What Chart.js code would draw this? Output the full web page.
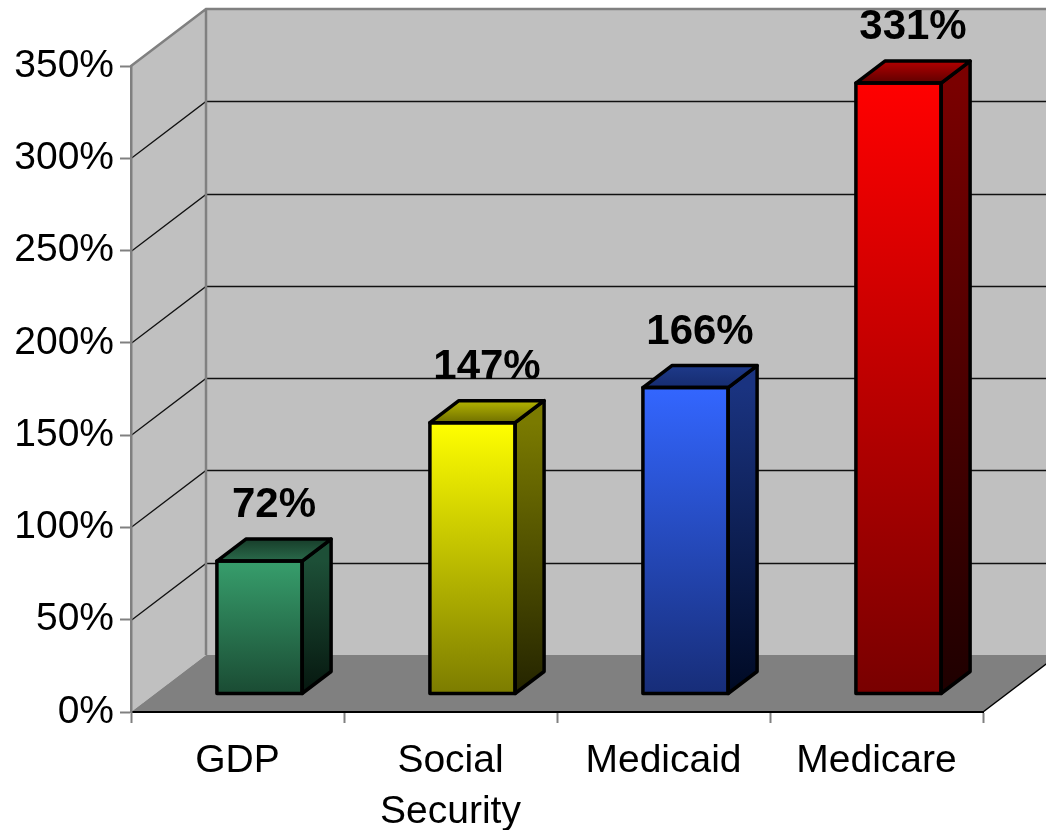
<!DOCTYPE html>
<html>
<head>
<meta charset="utf-8">
<script src="https://cdn.jsdelivr.net/npm/chart.js@4.4.1/dist/chart.umd.min.js"></script>
<style>
  body { margin: 0; background: #fff; }
  #wrap { width: 1046px; height: 830px; position: relative; }
</style>
</head>
<body>
<div id="wrap"><canvas id="growthChart"></canvas></div>
<script>
// chart data
const categories = ['GDP', 'Social Security', 'Medicaid', 'Medicare'];
const growth = [72, 147, 166, 331];
const yTicks = [0, 50, 100, 150, 200, 250, 300, 350];

// colours per bar: front top, front bottom, side top, side bottom, top back, top front
const barColors = [
    ['#379e6c', '#1a4b33', '#1d4f37', '#06170f', '#173d2a', '#2a6a4a'],
    ['#ffff00', '#7c7c00', '#7a7a00', '#242400', '#b5b500', '#6f6f00'],
    ['#3366ff', '#172d78', '#1a3380', '#000a24', '#1e3a8a', '#162c70'],
    ['#ff0000', '#780000', '#7a0000', '#1e0000', '#b30000', '#5e0000']
];

const FONT = "'Liberation Sans', Arial, sans-serif";
const WALL = { dx: 75, dy: -57 };   // depth of the walls
const BAR_OFF = { dx: 22, dy: -18 }; // where the bars stand on the floor
const BAR_DEPTH = { dx: 29, dy: -22 };

// draws the grey walls, floor and the gridlines on the back wall
const wallsPlugin = {
    id: 'walls',
    beforeDraw(chart) {
        const ctx = chart.ctx;
        const a = chart.chartArea;
        const y = chart.scales.y;
        const far = a.right + WALL.dx;
        ctx.save();
        // left wall
        ctx.fillStyle = '#c0c0c0';
        ctx.beginPath();
        ctx.moveTo(a.left, a.top);
        ctx.lineTo(a.left + WALL.dx, a.top + WALL.dy);
        ctx.lineTo(a.left + WALL.dx, a.bottom + WALL.dy);
        ctx.lineTo(a.left, a.bottom);
        ctx.closePath();
        ctx.fill();
        // back wall
        ctx.fillRect(a.left + WALL.dx, a.top + WALL.dy, far - a.left - WALL.dx, a.bottom - a.top);
        // floor
        ctx.fillStyle = '#808080';
        ctx.beginPath();
        ctx.moveTo(a.left, a.bottom);
        ctx.lineTo(a.left + WALL.dx, a.bottom + WALL.dy);
        ctx.lineTo(far, a.bottom + WALL.dy);
        ctx.lineTo(a.right, a.bottom);
        ctx.closePath();
        ctx.fill();
        ctx.strokeStyle = '#000';
        ctx.lineWidth = 1.5;
        ctx.beginPath();
        ctx.moveTo(a.right, a.bottom);
        ctx.lineTo(far, a.bottom + WALL.dy);
        ctx.stroke();

        // gridlines
        yTicks.forEach(v => {
            if (v === 0 || v === yTicks[yTicks.length - 1]) return;
            const py = Math.round(y.getPixelForValue(v)) + 0.5;
            ctx.strokeStyle = '#111';
            ctx.lineWidth = 1.3;
            ctx.beginPath();
            ctx.moveTo(a.left, py);
            ctx.lineTo(a.left + WALL.dx, py + WALL.dy);
            ctx.lineTo(far, py + WALL.dy);
            ctx.stroke();
        });

        // wall edges
        ctx.strokeStyle = '#808080';
        ctx.lineWidth = 2.5;
        ctx.beginPath();
        ctx.moveTo(a.left, a.top);
        ctx.lineTo(a.left + WALL.dx, a.top + WALL.dy);
        ctx.lineTo(far, a.top + WALL.dy);
        ctx.moveTo(a.left + WALL.dx, a.top + WALL.dy);
        ctx.lineTo(a.left + WALL.dx, a.bottom + WALL.dy);
        ctx.stroke();
        ctx.restore();
    },
    beforeDatasetsDraw(chart) {
        chart.ctx.save();
        chart.ctx.translate(BAR_OFF.dx, BAR_OFF.dy);
    },
    afterDatasetsDraw(chart) {
        const ctx = chart.ctx;
        const bars = chart.getDatasetMeta(0).data;
        bars.forEach((bar, i) => {
            const p = bar.getProps(['x', 'y', 'base', 'width']);
            const left = p.x - p.width / 2;
            const right = p.x + p.width / 2;
            const c = barColors[i];

            // side face
            let g = ctx.createLinearGradient(0, p.y, 0, p.base);
            g.addColorStop(0, c[2]);
            g.addColorStop(1, c[3]);
            ctx.fillStyle = g;
            ctx.beginPath();
            ctx.moveTo(right, p.y);
            ctx.lineTo(right + BAR_DEPTH.dx, p.y + BAR_DEPTH.dy);
            ctx.lineTo(right + BAR_DEPTH.dx, p.base + BAR_DEPTH.dy);
            ctx.lineTo(right, p.base);
            ctx.closePath();
            ctx.fill();
            ctx.lineWidth = 3.5;
            ctx.lineJoin = 'round';
            ctx.strokeStyle = '#000';
            ctx.stroke();

            // top face
            g = ctx.createLinearGradient(0, p.y + BAR_DEPTH.dy, 0, p.y);
            g.addColorStop(0, c[4]);
            g.addColorStop(1, c[5]);
            ctx.fillStyle = g;
            ctx.beginPath();
            ctx.moveTo(left, p.y);
            ctx.lineTo(left + BAR_DEPTH.dx, p.y + BAR_DEPTH.dy);
            ctx.lineTo(right + BAR_DEPTH.dx, p.y + BAR_DEPTH.dy);
            ctx.lineTo(right, p.y);
            ctx.closePath();
            ctx.fill();
            ctx.stroke();

            // front outline again so it sits on top of the faces
            ctx.strokeRect(left, p.y, p.width, p.base - p.y);

            // value label
            ctx.fillStyle = '#000';
            ctx.font = 'bold 42px ' + FONT;
            ctx.textAlign = 'center';
            ctx.textBaseline = 'alphabetic';
            ctx.fillText(growth[i] + '%', p.x + BAR_DEPTH.dx / 2, p.y + BAR_DEPTH.dy - 22);
        });
        ctx.restore();
    }
};

// front face gradient, same for all bars but different colours
function frontColor(context) {
    const chart = context.chart;
    if (!chart.chartArea) return barColors[context.dataIndex][0];
    const y = chart.scales.y;
    const top = y.getPixelForValue(growth[context.dataIndex]);
    const base = y.getPixelForValue(0);
    const g = chart.ctx.createLinearGradient(0, top, 0, base);
    g.addColorStop(0, barColors[context.dataIndex][0]);
    g.addColorStop(1, barColors[context.dataIndex][1]);
    return g;
}

new Chart(document.getElementById('growthChart'), {
    type: 'bar',
    data: {
        labels: categories,
        datasets: [{
            data: growth,
            backgroundColor: frontColor,
            borderColor: '#000',
            borderWidth: 0,
            barPercentage: 0.4,
            categoryPercentage: 1
        }]
    },
    options: {
        responsive: true,
        maintainAspectRatio: false,
        animation: false,
        layout: { padding: { top: 66, right: 63, left: 0, bottom: 0 } },
        plugins: {
            legend: { display: false },
            tooltip: { enabled: false }
        },
        scales: {
            x: {
                afterFit: s => { s.height = 118; },
                grid: { drawOnChartArea: false, tickLength: 11, tickColor: '#808080', tickWidth: 2 },
                border: { color: '#000', width: 2 },
                ticks: {
                    color: '#000',
                    padding: 13,
                    font: { family: FONT, size: 39, lineHeight: 1.3 },
                    callback: function (v, i) {
                        const s = categories[i];
                        return s.indexOf(' ') > 0 ? s.split(' ') : s;
                    }
                }
            },
            y: {
                min: 0,
                max: 350,
                afterFit: s => { s.width = 131; },
                afterBuildTicks: s => { s.ticks = yTicks.map(v => ({ value: v })); },
                grid: { drawOnChartArea: false, tickLength: 11, tickColor: '#808080', tickWidth: 2 },
                border: { color: '#808080', width: 2.5 },
                ticks: {
                    color: '#000',
                    padding: 6,
                    font: { family: FONT, size: 39 },
                    callback: v => v + '%'
                }
            }
        }
    },
    plugins: [wallsPlugin]
});
</script>
</body>
</html>
